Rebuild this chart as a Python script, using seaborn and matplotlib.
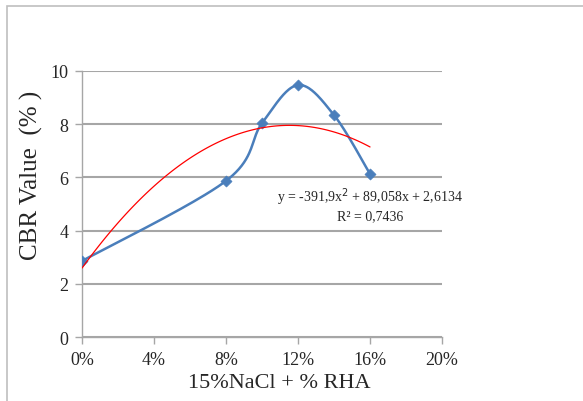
import matplotlib
matplotlib.use("Agg")
import matplotlib.pyplot as plt
import matplotlib.patches as mpatches
from matplotlib.ticker import PercentFormatter
import numpy as np
import pandas as pd
import seaborn as sns

# --- data ---
rha_share = [0.00, 0.08, 0.10, 0.12, 0.14, 0.16]
cbr_value = [2.86, 5.87, 8.04, 9.47, 8.34, 6.13]
x_ticks = [0.00, 0.04, 0.08, 0.12, 0.16, 0.20]
y_ticks = [0, 2, 4, 6, 8, 10]
eq_text = "y = -391,9x$^{2}$ + 89,058x + 2,6134"
r2_text = "R² = 0,7436"

BLUE = "#4a7ebb"
RED = "#ff0000"
GRID = "#a6a6a6"


def smooth_line(xs, ys, n=40):
    """Excel-style smoothed line (Catmull-Rom through the points)."""
    xs, ys = np.asarray(xs, float), np.asarray(ys, float)
    px = np.concatenate([[xs[0]], xs, [xs[-1]]])
    py = np.concatenate([[ys[0]], ys, [ys[-1]]])
    out_x, out_y = [], []
    t = np.linspace(0, 1, n)
    for i in range(1, len(px) - 2):
        p0x, p1x, p2x, p3x = px[i - 1:i + 3]
        p0y, p1y, p2y, p3y = py[i - 1:i + 3]
        b1x, b1y = p1x + (p2x - p0x) / 6, p1y + (p2y - p0y) / 6
        b2x, b2y = p2x - (p3x - p1x) / 6, p2y - (p3y - p1y) / 6
        bx = (1 - t) ** 3 * p1x + 3 * (1 - t) ** 2 * t * b1x + 3 * (1 - t) * t ** 2 * b2x + t ** 3 * p2x
        by = (1 - t) ** 3 * p1y + 3 * (1 - t) ** 2 * t * b1y + 3 * (1 - t) * t ** 2 * b2y + t ** 3 * p2y
        out_x.extend(bx)
        out_y.extend(by)
    return np.array(out_x), np.array(out_y)


sns.set_theme(style="white")
plt.rcParams["font.family"] = ["Liberation Serif", "DejaVu Serif"]

fig = plt.figure(figsize=(5.83, 4.02), dpi=100)
ax = fig.add_axes([0.1407, 0.159, 0.6175, 0.662])

# outer chart frame
fig.patches.append(mpatches.Rectangle((7 / 583, -0.05), 1.2, 1 - 7 / 402 + 0.05,
                                      transform=fig.transFigure, fill=False,
                                      edgecolor="#bfbfbf", linewidth=1.2))

sx, sy = smooth_line(rha_share, cbr_value)
curve = pd.DataFrame({"x": sx, "y": sy})
points = pd.DataFrame({"x": rha_share, "y": cbr_value})

sns.lineplot(data=curve, x="x", y="y", sort=False, color=BLUE, linewidth=1.8, ax=ax, zorder=3)
sns.scatterplot(data=points, x="x", y="y", marker="D", s=32, color=BLUE,
                edgecolor=BLUE, ax=ax, zorder=4)
# polynomial (order 2) trendline
sns.regplot(data=points, x="x", y="y", order=2, ci=None, scatter=False,
            line_kws={"color": RED, "linewidth": 0.9, "zorder": 5}, ax=ax)

ax.set_xlim(0, 0.20)
ax.set_ylim(0, 10)
ax.set_xticks(x_ticks)
ax.set_yticks(y_ticks)
ax.xaxis.set_major_formatter(PercentFormatter(1.0, decimals=0))
ax.yaxis.grid(True, color=GRID, linewidth=1.5)
ax.xaxis.grid(False)
ax.set_axisbelow(True)
for side in ["top", "right"]:
    ax.spines[side].set_visible(False)
for side in ["left", "bottom"]:
    ax.spines[side].set_color(GRID)
    ax.spines[side].set_linewidth(1.0)
ax.tick_params(axis="both", direction="out", length=5, width=1, color=GRID,
               labelsize=13, pad=5, bottom=True, left=True)

ax.set_xlabel("15%NaCl + % RHA", fontsize=16)
ax.xaxis.set_label_coords(0.548, -0.135)
ax.set_ylabel("CBR Value  (% )", fontsize=18)
ax.yaxis.set_label_coords(-0.108, 0.613)

ax.text(0.160, 5.28, eq_text, fontsize=10, ha="center", va="center", zorder=6)
ax.text(0.160, 4.56, r2_text, fontsize=10, ha="center", va="center", zorder=6)

fig.savefig("out.png", dpi=100)
